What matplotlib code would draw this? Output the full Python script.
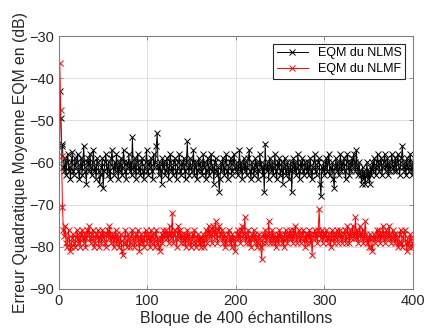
import matplotlib
matplotlib.use("Agg")
from matplotlib import pyplot as plt
import numpy as np

# EQM (dB) per block
nlms = [
    -43, -49.5, -55.5, -56, -61, -62, -59, -63, -60, -58, -62, -61, -64, -60, -57.5, -62, -63, -59, -61, -60,
    -58, -62, -64, -61, -59, -63, -60, -56, -61, -62, -65, -60, -59, -62, -58, -61, -63, -60, -57, -62,
    -61, -64, -59, -60, -62, -65, -63, -61, -59, -66, -62, -60, -58, -61, -63, -60, -62, -64, -59, -57,
    -61, -63, -60, -62, -58, -61, -64, -60, -62, -59, -63, -61, -57, -60, -62, -64, -60, -61, -58, -62,
    -60, -63, -54, -61, -62, -59, -64, -60, -58, -62, -61, -63, -60, -59, -62, -64, -61, -60, -57, -62,
    -63, -60, -61, -59, -62, -64, -58, -61, -60, -56, -53, -61, -63, -60, -62, -65, -59, -61, -60, -63,
    -62, -59, -61, -64, -60, -58, -62, -61, -63, -60, -59, -62, -64, -61, -60, -58, -62, -63, -60, -61,
    -59, -62, -64, -60, -55, -61, -63, -59, -61, -62, -60, -57, -63, -61, -60, -64, -62, -59, -61, -60,
    -62, -63, -58, -61, -60, -64, -62, -59, -61, -63, -60, -58, -62, -61, -65, -60, -59, -62, -63, -61,
    -67, -64, -60, -62, -59, -61, -63, -60, -58, -62, -64, -61, -60, -59, -63, -62, -60, -58, -61, -62,
    -60, -63, -61, -57, -62, -60, -64, -61, -59, -62, -60, -63, -61, -59, -57, -62, -64, -60, -61, -63,
    -62, -59, -61, -60, -64, -62, -58, -61, -60, -63, -61, -67, -55.5, -61, -62, -60, -64, -59, -61, -62,
    -60, -63, -61, -58, -62, -64, -60, -61, -59, -63, -62, -60, -65, -61, -59, -62, -63, -60, -61, -64,
    -62, -60, -67, -61, -59, -62, -60, -63, -61, -58, -62, -64, -60, -61, -59, -62, -63, -60, -61, -62,
    -60, -63, -61, -59, -62, -64, -61, -60, -58, -62, -63, -61, -60, -59, -65, -68, -61, -62, -60, -63,
    -61, -59, -62, -60, -58, -63, -61, -62, -60, -64, -66, -61, -59, -62, -60, -63, -61, -58, -62, -60,
    -61, -59, -62, -64, -60, -58, -61, -63, -60, -62, -59, -61, -58, -60, -62, -57, -61, -63, -60, -62,
    -63, -65, -61, -64, -62, -65, -63, -60, -64, -62, -65, -61, -63, -60, -62, -59, -61, -63, -60, -58,
    -61, -62, -60, -59, -63, -61, -60, -58, -62, -61, -59, -63, -60, -62, -61, -58, -60, -62, -61, -59,
    -62, -60, -58, -61, -63, -60, -59, -56, -61, -62, -60, -63, -59, -61, -62, -60, -58, -61, -63, -60,
]

nlmf = [
    -36.5, -47.5, -58.5, -70.5, -76, -77.5, -75, -79, -80, -78, -76, -79, -81, -80, -78, -77, -79, -80, -78, -76,
    -77, -79, -78, -80, -77, -76, -78, -79, -77, -80, -78, -76, -77, -75, -78, -79, -77, -76, -78, -80,
    -79, -77, -78, -76, -80, -78, -77, -79, -76, -78, -77, -79, -80, -77, -76, -78, -75, -77, -79, -78,
    -77, -80, -78, -76, -79, -77, -78, -80, -79, -77, -81, -82, -79, -78, -76, -79, -80, -77, -78, -80,
    -79, -77, -76, -78, -80, -79, -77, -78, -76, -79, -81, -78, -77, -79, -78, -80, -77, -76, -78, -79,
    -77, -78, -80, -76, -79, -77, -78, -80, -77, -76, -79, -78, -80, -81, -78, -77, -79, -76, -78, -77,
    -76, -78, -77, -79, -75, -77, -78, -72, -79, -77, -76, -78, -80, -77, -75, -78, -76, -79, -77, -78,
    -79, -77, -80, -78, -76, -79, -77, -78, -80, -79, -77, -78, -76, -79, -80, -78, -77, -79, -78, -80,
    -78, -79, -77, -80, -78, -76, -79, -77, -75, -78, -76, -77, -79, -75, -76, -78, -74, -77, -79, -76,
    -75, -78, -77, -76, -79, -78, -77, -80, -79, -78, -77, -76, -79, -78, -80, -77, -78, -79, -81, -78,
    -77, -76, -78, -77, -79, -76, -75, -78, -77, -73, -79, -78, -77, -76, -79, -78, -80, -77, -78, -76,
    -79, -77, -78, -80, -79, -77, -78, -80, -83, -79, -77, -78, -76, -79, -77, -78, -74, -77, -79, -78,
    -76, -79, -77, -78, -80, -78, -77, -79, -76, -78, -77, -79, -78, -80, -77, -76, -78, -79, -77, -78,
    -76, -78, -77, -79, -76, -78, -75, -77, -79, -78, -76, -77, -79, -78, -77, -76, -78, -80, -77, -79,
    -77, -78, -76, -79, -77, -82, -78, -77, -76, -78, -77, -79, -76, -71, -77, -78, -76, -79, -77, -78,
    -77, -76, -78, -79, -77, -78, -80, -77, -76, -78, -79, -77, -78, -76, -79, -77, -76, -78, -77, -79,
    -78, -77, -76, -79, -78, -75, -77, -79, -76, -78, -77, -75, -78, -77, -73, -78, -76, -79, -77, -75,
    -78, -77, -76, -79, -78, -74, -77, -79, -78, -80, -77, -78, -80, -81, -78, -77, -79, -78, -76, -77,
    -78, -76, -79, -77, -78, -75, -77, -79, -78, -76, -77, -78, -75, -77, -79, -78, -76, -77, -78, -79,
    -77, -78, -80, -79, -77, -76, -79, -80, -78, -77, -76, -79, -81, -78, -80, -79, -77, -78, -80, -79,
]

blocs = np.arange(1, len(nlms) + 1)

plt.rcParams['font.family'] = ['Liberation Sans', 'DejaVu Sans']
txt = '#262626'

fig = plt.figure(figsize=(4.24, 3.34), dpi=100)
ax = fig.add_axes([0.139, 0.135, 0.835, 0.757])

ax.plot(blocs, nlms, color='k', lw=0.7, marker='x', ms=4, mew=0.7, label='EQM du NLMS')
ax.plot(blocs, nlmf, color='r', lw=0.7, marker='x', ms=4, mew=0.7, label='EQM du NLMF')

ax.set_xlim(0, 400)
ax.set_ylim(-90, -30)
ax.set_xticks([0, 100, 200, 300, 400])
ax.set_yticks([-90, -80, -70, -60, -50, -40, -30])
ax.grid(True, color='#b0b0b0', lw=0.6, alpha=0.45)
ax.tick_params(direction='in', length=3, width=0.6, colors='#808080', labelcolor=txt,
               labelsize=10.5, top=True, right=True)
for s in ax.spines.values():
    s.set_color('#808080')
    s.set_linewidth(0.8)

ax.set_xlabel('Bloque de 400 échantillons', fontsize=11.5, color=txt, labelpad=2)
ax.set_ylabel('Erreur Quadratique Moyenne EQM en (dB)', fontsize=11.3, color=txt, labelpad=1)

leg = ax.legend(loc='upper right', fontsize=9, fancybox=False, framealpha=1,
                borderaxespad=0.6, handlelength=2.5, borderpad=0.3, labelspacing=0.3)
leg.get_frame().set_edgecolor('#262626')
leg.get_frame().set_linewidth(0.8)

fig.savefig('out.png', dpi=100)
